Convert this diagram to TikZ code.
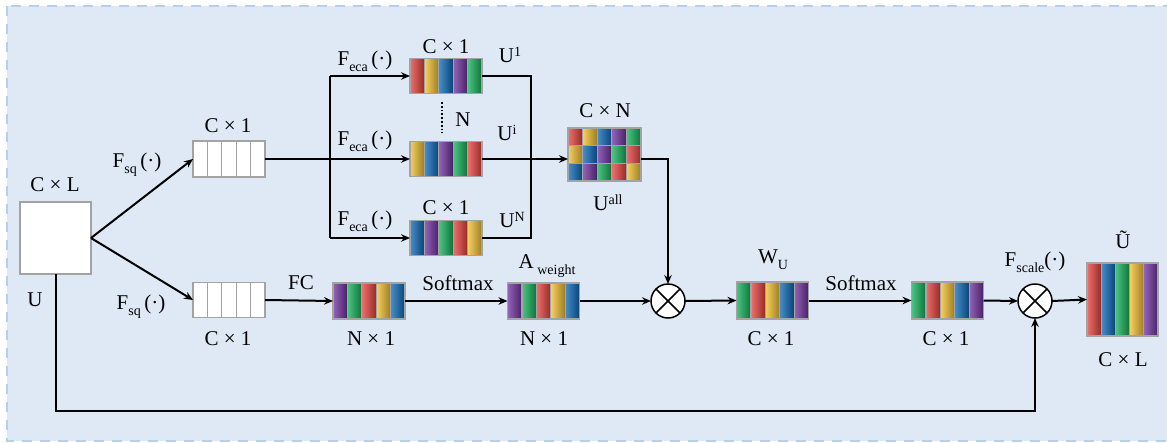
\documentclass[tikz,border=0pt]{standalone}
\usepackage{fontspec}
\setmainfont{Liberation Serif}
\usetikzlibrary{arrows.meta,calc}

\definecolor{bgfill}{HTML}{DEE9F5}
\definecolor{bgdash}{HTML}{B5D0EC}
\definecolor{cellline}{HTML}{A3A3A3}
\definecolor{cR}{HTML}{E8403C}
\definecolor{cY}{HTML}{F2C02E}
\definecolor{cB}{HTML}{0B68B8}
\definecolor{cP}{HTML}{7030A0}
\definecolor{cG}{HTML}{12B15A}

% lowered subscript and raised superscript for the labels
\newcommand\lsub[1]{\raisebox{-0.3em}{\fontsize{14}{14}\selectfont #1}}
\newcommand\usup[1]{\raisebox{0.28em}{\fontsize{14}{14}\selectfont #1}}

% one row of coloured cells inside a bar node:
% #1 node, #2 row index, #3 cell width, #4 cell height, #5 colours
\newcommand\cellrow[5]{%
  \begin{scope}[shift={(#1.north west)}]
    \foreach \c [count=\i from 0] in {#5} {
      \path[cell, left color=\c!75!white, middle color=\c, right color=\c!65!black]
        (\i*#3, #2*#4) rectangle ++(#3, #4);
    }
  \end{scope}}
% plain white cells
\newcommand\whitecells[3]{%
  \begin{scope}[shift={(#1.north west)}]
    \foreach \i in {0,...,4} {
      \path[cell, fill=white] (\i*#2, 0) rectangle ++(#2, #3);
    }
  \end{scope}}
\newcommand\frameit[1]{\draw[cellline, line width=1.5pt] (#1.north west) rectangle (#1.south east);}

\begin{document}
\begin{tikzpicture}[x=1pt, y=-1pt,
  every node/.style={font=\fontsize{21}{24}\selectfont, inner sep=0pt},
  bar/.style={draw=cellline, line width=1.5pt, fill=white, outer sep=0pt,
              minimum width=#1, minimum height=36pt},
  bar/.default=72pt,
  cell/.style={draw=cellline, line width=1.2pt},
  link/.style={line width=2pt, draw=black},
  arr/.style={link, -{Stealth[length=9pt, width=7.5pt]}},
  otimes/.style={circle, draw=black, line width=1.5pt, fill=white,
                 minimum size=34pt, outer sep=0pt}]

\useasboundingbox (0,0) rectangle (1167,442);
\begin{scope}
  \clip (0,0) rectangle (1167,442);
  \fill[white] (0,0) rectangle (1167,442);
  \draw[bgdash, fill=bgfill, line width=2pt, dash pattern=on 10pt off 8pt]
    (7,6) rectangle (1190,441);
\end{scope}

% ---------- blocks ----------
\node[draw=cellline, line width=1.5pt, fill=white, minimum width=71pt,
      minimum height=72pt, outer sep=0pt] (inp) at (55.5,238) {};
\node[bar] (sqa) at (229,159) {};
\node[bar, minimum height=35pt] (sqb) at (229,300) {};
\node[bar, minimum height=35pt] (eca1) at (446,76) {};
\node[bar, minimum height=35pt] (eca2) at (446,159) {};
\node[bar, minimum height=35pt] (eca3) at (446,238) {};
\node[bar=73pt, minimum height=53pt] (uall) at (604.5,154.5) {};
\node[bar] (nb) at (369,301) {};
\node[bar] (aw) at (543.5,301) {};
\node[bar, minimum height=37pt] (wu) at (772.5,300.5) {};
\node[bar, minimum height=37pt] (smb) at (947.5,300.5) {};
\node[bar=71pt, minimum height=73pt] (out) at (1122.5,299.5) {};
\node[otimes] (ot1) at (668,301) {};
\node[otimes] (ot2) at (1035,301) {};

% cells
\whitecells{sqa}{14.4}{36}
\whitecells{sqb}{14.4}{35}
\cellrow{eca1}{0}{14.4}{35}{cR,cY,cB,cP,cG}
\cellrow{eca2}{0}{14.4}{35}{cY,cB,cP,cG,cR}
\cellrow{eca3}{0}{14.4}{35}{cB,cP,cG,cR,cY}
\cellrow{uall}{0}{14.6}{17.667}{cR,cY,cB,cP,cG}
\cellrow{uall}{1}{14.6}{17.667}{cY,cB,cP,cG,cR}
\cellrow{uall}{2}{14.6}{17.667}{cB,cP,cG,cR,cY}
\cellrow{nb}{0}{14.4}{36}{cP,cG,cR,cY,cB}
\cellrow{aw}{0}{14.4}{36}{cP,cG,cR,cY,cB}
\cellrow{wu}{0}{14.4}{37}{cG,cR,cY,cB,cP}
\cellrow{smb}{0}{14.4}{37}{cG,cR,cY,cB,cP}
\cellrow{out}{0}{14.2}{73}{cR,cB,cG,cY,cP}
\foreach \n in {sqa,sqb,eca1,eca2,eca3,uall,nb,aw,wu,smb,out} {\frameit{\n}}

% crosses in the product circles
\foreach \n in {ot1,ot2} {
  \draw[line width=1.5pt] (\n.north west) -- (\n.south east);
  \draw[line width=1.5pt] (\n.north east) -- (\n.south west);
}

% ---------- connectors ----------
\coordinate (jx) at (330,159);
\coordinate (kx) at (531,159);
\coordinate (bot) at (0,411);

\draw[arr] (inp.east) -- (sqa.west);
\draw[arr] (inp.east) -- (sqb.west);
\draw[arr] (sqa.east) -- (eca2.west);
\draw[link] (jx |- eca1.west) -- (jx |- eca3.west);
\draw[arr] (jx |- eca1.west) -- (eca1.west);
\draw[arr] (jx |- eca3.west) -- (eca3.west);
\draw[link] (eca1.east) -- (kx |- eca1.east) -- (kx |- eca3.east) -- (eca3.east);
\draw[link] (eca2.east) -- (kx);
\draw[arr] (kx) -- (kx -| uall.west);
\draw[arr] (uall.east |- kx) -| (ot1.north);
\draw[dotted, line width=1.8pt] (442,102) -- (442,133);

\draw[arr] (sqb.east) -- (nb.west);
\draw[arr] (nb.east) -- (aw.west);
\draw[arr] (aw.east) -- (ot1.west);
\draw[arr] (ot1.east) -- (wu.west);
\draw[arr] (wu.east) -- (smb.west);
\draw[arr] (smb.east) -- (ot2.west);
\draw[arr] (ot2.east) -- (out.west);
\draw[arr] (inp.south) -- (inp.south |- bot) -| (ot2.south);

% ---------- labels ----------
\node (tCL) at (55,185) {C × L};
\node (tU) at (35,300) {U};
\node (tsq1) at (137,165) {F\lsub{sq}\,(·)};
\node (tsq2) at (141,307) {F\lsub{sq}\,(·)};
\node (tC1a) at (228,126) {C × 1};
\node (tC1b) at (228,339) {C × 1};
\node (te1) at (365,61) {F\lsub{eca}\,(·)};
\node (te2) at (365,141) {F\lsub{eca}\,(·)};
\node (te3) at (365,221) {F\lsub{eca}\,(·)};
\node (tC1c) at (446,47) {C × 1};
\node (tC1d) at (446,208) {C × 1};
\node (tN) at (463,120) {N};
\node (tU1) at (510,55) {U\usup{1}};
\node (tUi) at (507,133) {U\usup{i}};
\node (tUN) at (512,220) {U\usup{N}};
\node (tCN) at (605,111) {C × N};
\node (tUall) at (608,203) {U\usup{all}};
\node (tFC) at (301,283) {FC};
\node (tN1a) at (371,339) {N × 1};
\node (tsm1) at (458,283) {Softmax};
\node (tAw) at (547,266) {A\,\lsub{weight}};
\node (tN1b) at (544,339) {N × 1};
\node (tWU) at (773,260) {W\lsub{U}};
\node (tC1e) at (771,339) {C × 1};
\node (tsm2) at (861,283) {Softmax};
\node (tC1f) at (946,339) {C × 1};
\node (tFs) at (1035,262) {F\lsub{scale}(·)};
\node (tUt) at (1123,240) {Ũ};
\node (tCL2) at (1123,360) {C × L};

\end{tikzpicture}
\end{document}
